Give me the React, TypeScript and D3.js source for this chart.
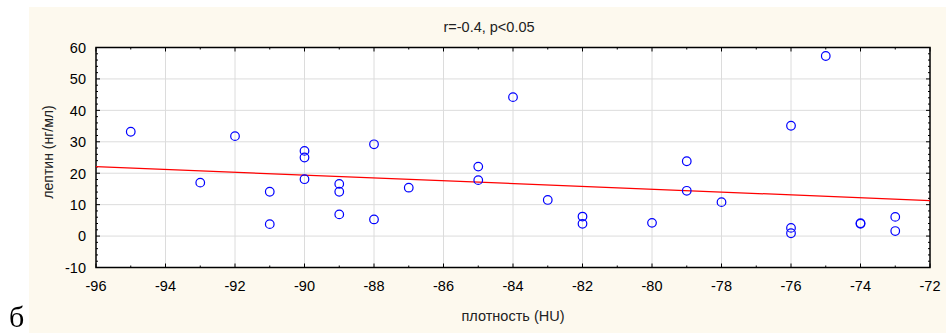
import { useEffect, useRef } from "react";
import * as d3 from "d3";

// scatter points: density (HU) vs leptin (ng/ml)
const density = [
  -95, -93, -92, -91, -91, -90, -90, -90, -89, -89, -89, -88, -88, -87, -85, -85,
  -84, -83, -82, -82, -80, -79, -79, -78, -76, -76, -76, -75, -74, -74, -73, -73,
];
const leptin = [
  33.2, 17.0, 31.8, 14.1, 3.8, 27.1, 25.0, 18.1, 16.6, 14.1, 6.9, 29.2, 5.3, 15.4, 22.1, 17.8,
  44.2, 11.5, 6.2, 3.9, 4.2, 23.8, 14.4, 10.8, 35.1, 2.6, 0.9, 57.3, 4.1, 3.9, 6.1, 1.6,
];
// fitted line end points
const fitX = [-96, -72];
const fitY = [22.1, 11.3];

const xTicks = d3.range(-96, -71, 2);
const yTicks = d3.range(-10, 61, 10);

export default function App() {
  const svgRef = useRef<SVGSVGElement>(null);

  useEffect(() => {
    if (!svgRef.current) return;
    const svg = d3.select(svgRef.current);
    svg.selectAll("*").remove();

    const width = 946;
    const height = 333;
    const margin = { top: 47.5, right: 16, bottom: 65.5, left: 96 };
    const innerWidth = width - margin.left - margin.right;
    const innerHeight = height - margin.top - margin.bottom;
    const font = "Liberation Sans, Arial, sans-serif";

    // beige panel
    svg
      .append("rect")
      .attr("x", 29)
      .attr("y", 7)
      .attr("width", width - 29)
      .attr("height", height - 7)
      .attr("fill", "#fdf9ee");

    const x = d3.scaleLinear().domain([-96, -72]).range([0, innerWidth]);
    const y = d3.scaleLinear().domain([-10, 60]).range([innerHeight, 0]);

    const g = svg
      .append("g")
      .attr("transform", `translate(${margin.left},${margin.top})`);

    g.append("rect")
      .attr("width", innerWidth)
      .attr("height", innerHeight)
      .attr("fill", "#fff");

    // grid
    g.append("g")
      .selectAll("line")
      .data(xTicks.slice(1, -1))
      .join("line")
      .attr("x1", (d) => x(d))
      .attr("x2", (d) => x(d))
      .attr("y1", 0)
      .attr("y2", innerHeight)
      .attr("stroke", "#dcdcdc")
      .attr("stroke-width", 1);
    g.append("g")
      .selectAll("line")
      .data(yTicks.slice(1, -1))
      .join("line")
      .attr("x1", 0)
      .attr("x2", innerWidth)
      .attr("y1", (d) => y(d))
      .attr("y2", (d) => y(d))
      .attr("stroke", "#dcdcdc")
      .attr("stroke-width", 1);

    // inner ticks on all four sides
    const ticks = g.append("g").attr("stroke", "#000").attr("stroke-width", 1);
    d3.range(-96, -71, 1).forEach((v) => {
      const len = v % 2 === 0 ? 4 : 2;
      ticks.append("line").attr("x1", x(v)).attr("x2", x(v)).attr("y1", innerHeight).attr("y2", innerHeight - len);
      ticks.append("line").attr("x1", x(v)).attr("x2", x(v)).attr("y1", 0).attr("y2", len);
    });
    d3.range(-10, 61, 2).forEach((v) => {
      const len = v % 10 === 0 ? 4 : 2;
      ticks.append("line").attr("x1", 0).attr("x2", len).attr("y1", y(v)).attr("y2", y(v));
      ticks.append("line").attr("x1", innerWidth).attr("x2", innerWidth - len).attr("y1", y(v)).attr("y2", y(v));
    });

    // frame
    g.append("rect")
      .attr("width", innerWidth)
      .attr("height", innerHeight)
      .attr("fill", "none")
      .attr("stroke", "#000")
      .attr("stroke-width", 1.5);

    // tick labels
    g.append("g")
      .selectAll("text")
      .data(xTicks)
      .join("text")
      .attr("x", (d) => x(d))
      .attr("y", innerHeight + 23.5)
      .attr("text-anchor", "middle")
      .attr("font-family", font)
      .attr("font-size", 14.5)
      .attr("fill", "#000")
      .text((d) => d3.format("d")(d).replace("−", "-"));
    g.append("g")
      .selectAll("text")
      .data(yTicks)
      .join("text")
      .attr("x", -10)
      .attr("y", (d) => y(d) + 5.3)
      .attr("text-anchor", "end")
      .attr("font-family", font)
      .attr("font-size", 14.5)
      .attr("fill", "#000")
      .text((d) => d3.format("d")(d).replace("−", "-"));

    // regression line
    const line = d3
      .line<number>()
      .x((d) => x(d))
      .y((_, i) => y(fitY[i]));
    g.append("path")
      .datum(fitX)
      .attr("d", line)
      .attr("fill", "none")
      .attr("stroke", "#ff0000")
      .attr("stroke-width", 1.3);

    // points
    g.append("g")
      .selectAll("circle")
      .data(density)
      .join("circle")
      .attr("cx", (d) => x(d))
      .attr("cy", (_, i) => y(leptin[i]))
      .attr("r", 4.3)
      .attr("fill", "none")
      .attr("stroke", "#0000ff")
      .attr("stroke-width", 1.2);

    // titles
    svg
      .append("text")
      .attr("x", 489)
      .attr("y", 32)
      .attr("text-anchor", "middle")
      .attr("font-family", font)
      .attr("font-size", 14.5)
      .attr("fill", "#222")
      .text("r=-0.4, p<0.05");
    svg
      .append("text")
      .attr("x", 513)
      .attr("y", 321)
      .attr("text-anchor", "middle")
      .attr("font-family", font)
      .attr("font-size", 14.5)
      .attr("fill", "#222")
      .text("плотность (HU)");
    svg
      .append("text")
      .attr("transform", `translate(53,152) rotate(-90)`)
      .attr("text-anchor", "middle")
      .attr("font-family", font)
      .attr("font-size", 14)
      .attr("fill", "#222")
      .text("лептин (нг/мл)");
    svg
      .append("text")
      .attr("x", 9)
      .attr("y", 327)
      .attr("font-family", "Liberation Serif, Times New Roman, serif")
      .attr("font-size", 30)
      .text("б");
  }, []);

  return (
    <div style={{ position: "fixed", left: 0, top: 0 }}>
      <svg ref={svgRef} width={946} height={333} style={{ display: "block" }}></svg>
    </div>
  );
}
